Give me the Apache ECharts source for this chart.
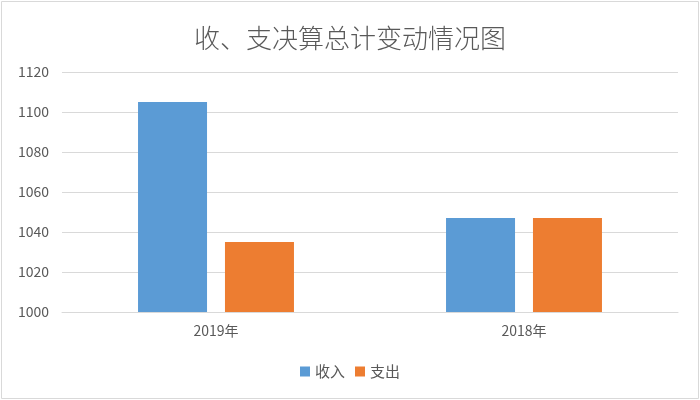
<!DOCTYPE html>
<html>
<head>
<meta charset="utf-8">
<script src="https://cdn.jsdelivr.net/npm/echarts@6/dist/echarts.min.js"></script>
<style>
  html, body { margin: 0; padding: 0; background: #fff; }
  #chart { width: 700px; height: 400px; }
</style>
</head>
<body>
<div id="chart"></div>
<script>
// 数据
const categories = ['2019年', '2018年']
const incomeValues = [1105, 1047]
const expenseValues = [1035, 1047]
const seriesNames = ['收入', '支出']

const textColor = '#595959'
const font = '"Noto Sans CJK SC", "Microsoft YaHei", sans-serif'

const chart = echarts.init(document.getElementById('chart'))

chart.setOption({
  animation: false,
  textStyle: { fontFamily: font },
  // 外边框
  graphic: [{
    type: 'rect',
    shape: { x: 1.5, y: 1.5, width: 697, height: 397 },
    style: { fill: 'none', stroke: '#d9d9d9', lineWidth: 1 },
    silent: true
  }],
  title: {
    text: '收、支决算总计变动情况图',
    left: 'center',
    top: 20,
    textStyle: { fontSize: 26, fontWeight: 300, color: textColor, fontFamily: font }
  },
  legend: {
    data: seriesNames,
    bottom: 16,
    left: 'center',
    itemWidth: 10,
    itemHeight: 10,
    itemGap: 10,
    icon: 'rect',
    textStyle: { fontSize: 15, color: textColor, fontFamily: font }
  },
  grid: { left: 62, right: 22, top: 72, bottom: 88, containLabel: false },
  xAxis: {
    type: 'category',
    data: categories,
    axisLine: { show: true, lineStyle: { color: '#d9d9d9' } },
    axisTick: { show: false },
    axisLabel: { fontSize: 14, color: textColor, margin: 12 }
  },
  yAxis: {
    type: 'value',
    min: 1000,
    max: 1120,
    interval: 20,
    axisLine: { show: false },
    axisTick: { show: false },
    axisLabel: { fontSize: 14, color: textColor, margin: 13, formatter: v => String(v) },
    splitLine: { lineStyle: { color: '#d9d9d9' } }
  },
  series: [
    {
      name: seriesNames[0],
      type: 'bar',
      data: incomeValues,
      barWidth: 69,
      barGap: '26%',
      itemStyle: { color: '#5b9bd5' }
    },
    {
      name: seriesNames[1],
      type: 'bar',
      data: expenseValues,
      barWidth: 69,
      itemStyle: { color: '#ed7d31' }
    }
  ]
})
</script>
</body>
</html>
